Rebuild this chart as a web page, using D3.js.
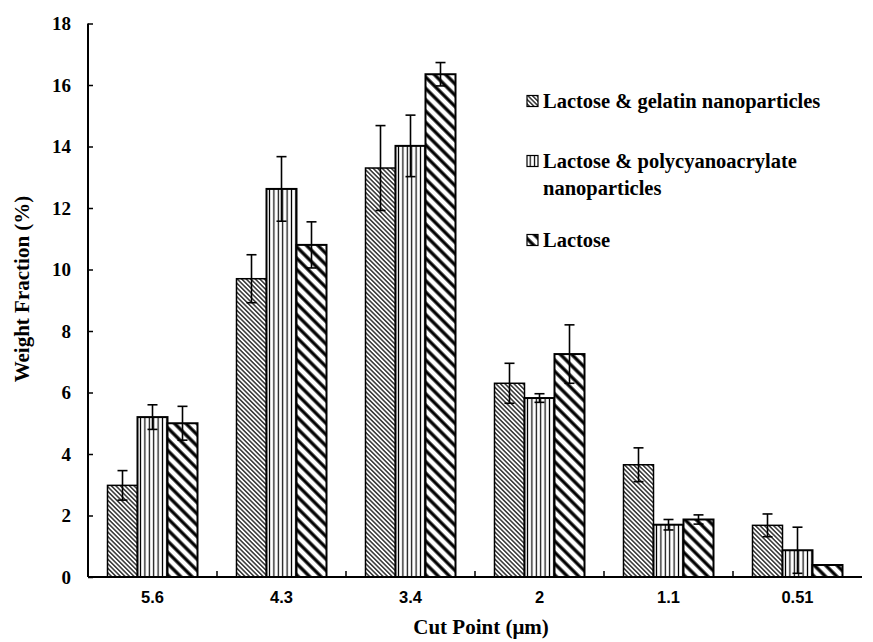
<!DOCTYPE html>
<html>
<head>
<meta charset="utf-8">
<script src="https://cdn.jsdelivr.net/npm/d3@7"></script>
<style>
  body { margin: 0; background: #fff; }
</style>
</head>
<body>
<script>
// chart values
let cutPoints = ["5.6", "4.3", "3.4", "2", "1.1", "0.51"]
let seriesNames = ["Lactose & gelatin nanoparticles", "Lactose & polycyanoacrylate nanoparticles", "Lactose"]
let gelatin = [2.98, 9.7, 13.3, 6.3, 3.65, 1.68]
let gelatinErr = [0.48, 0.78, 1.38, 0.65, 0.55, 0.37]
let polycyano = [5.2, 12.62, 14.02, 5.82, 1.7, 0.87]
let polycyanoErr = [0.4, 1.05, 1.0, 0.14, 0.17, 0.75]
let lactose = [5.0, 10.8, 16.35, 7.25, 1.87, 0.39]
let lactoseErr = [0.55, 0.75, 0.38, 0.95, 0.15, 0]
let yTicks = [0, 2, 4, 6, 8, 10, 12, 14, 16, 18]

let values = [gelatin, polycyano, lactose]
let errors = [gelatinErr, polycyanoErr, lactoseErr]

let width = 873, height = 642
let plotL = 88, plotR = 862, plotT = 23.5, plotB = 577
let serif = "'Liberation Serif', 'Times New Roman', Tinos, 'DejaVu Serif', serif"
let sans = "'Liberation Sans', Arial, 'DejaVu Sans', sans-serif"

let svg = d3.select("body").append("svg")
  .attr("width", width)
  .attr("height", height)
  .attr("font-family", serif)
  .attr("font-weight", "bold")

// hatch patterns for the three series
let defs = svg.append("defs")
function hatch(id, size, stroke, angle) {
  let p = defs.append("pattern")
    .attr("id", id)
    .attr("patternUnits", "userSpaceOnUse")
    .attr("width", size).attr("height", size)
    .attr("patternTransform", "rotate(" + angle + ")")
  p.append("rect").attr("width", size).attr("height", size).attr("fill", "#fff")
  p.append("line")
    .attr("x1", size / 2).attr("x2", size / 2)
    .attr("y1", 0).attr("y2", size)
    .attr("stroke", "#000").attr("stroke-width", stroke)
}
hatch("p0", 3.2, 1.2, -45)
hatch("p1", 4.4, 1.2, 0)
hatch("p2", 8, 3.3, -45)

let x = d3.scaleBand().domain(cutPoints).range([plotL, plotR])
let inner = d3.scaleBand().domain([0, 1, 2]).range([0, 90])
let y = d3.scaleLinear().domain([0, 18]).range([plotB, plotT])

let groups = svg.selectAll("g.cat")
  .data(cutPoints)
  .enter().append("g")
  .attr("class", "cat")
  .attr("transform", d => "translate(" + (x(d) + x.bandwidth() / 2 - 45) + ",0)")

groups.each(function(cat, ci) {
  let g = d3.select(this)
  values.forEach((vals, si) => {
    let v = vals[ci], e = errors[si][ci]
    let bx = inner(si), bw = inner.bandwidth()
    g.append("rect")
      .attr("x", bx).attr("y", y(v))
      .attr("width", bw).attr("height", y(0) - y(v))
      .attr("fill", "url(#p" + si + ")")
      .attr("stroke", "#000")
      .attr("stroke-width", si == 0 ? 1.5 : 2)
    if (e > 0) {
      let cx = bx + bw / 2
      g.append("line")
        .attr("x1", cx).attr("x2", cx)
        .attr("y1", y(v + e)).attr("y2", y(v - e))
        .attr("stroke", "#000").attr("stroke-width", 1.6)
      ;[v + e, v - e].forEach(t => {
        g.append("line")
          .attr("x1", cx - 5).attr("x2", cx + 5)
          .attr("y1", y(t)).attr("y2", y(t))
          .attr("stroke", "#000").attr("stroke-width", 1.6)
      })
    }
  })
})

// y axis, ticks pointing inward
let yAxis = d3.axisLeft(y).tickValues(yTicks).tickSize(-5).tickPadding(17)
let yg = svg.append("g").attr("transform", "translate(" + plotL + ",0)").call(yAxis)
yg.attr("font-family", serif).attr("font-size", 19)
yg.select(".domain").attr("stroke-width", 2).attr("d", "M0," + plotT + "V" + plotB)
yg.selectAll(".tick line").attr("stroke-width", 1.5)
yg.selectAll("text").attr("fill", "#000")

// x axis, ticks between categories
let xAxis = d3.axisBottom(x).tickSize(0).tickPadding(14)
let xg = svg.append("g").attr("transform", "translate(0," + plotB + ")").call(xAxis)
xg.attr("font-family", sans).attr("font-size", 16.5)
xg.select(".domain").attr("stroke-width", 2).attr("d", "M" + plotL + ",0H" + plotR)
xg.selectAll("text").attr("fill", "#000")
xg.selectAll(".sep")
  .data(cutPoints.slice(1))
  .enter().append("line")
  .attr("x1", d => x(d)).attr("x2", d => x(d))
  .attr("y1", 0).attr("y2", -6)
  .attr("stroke", "#000").attr("stroke-width", 1.5)

// axis titles
svg.append("text")
  .attr("transform", "translate(29,289) rotate(-90)")
  .attr("text-anchor", "middle")
  .attr("font-size", 21)
  .text("Weight Fraction (%)")

svg.append("text")
  .attr("x", 481).attr("y", 634)
  .attr("text-anchor", "middle")
  .attr("font-size", 21)
  .text("Cut Point (\u03bcm)")

// legend
let legendY = [101, 161, 240]
let legend = svg.append("g")
seriesNames.forEach((name, i) => {
  let ly = legendY[i]
  legend.append("rect")
    .attr("x", 527).attr("y", ly - 5.5)
    .attr("width", 11).attr("height", 11)
    .attr("fill", "url(#p" + i + ")")
    .attr("stroke", "#000").attr("stroke-width", 1.2)
  let t = legend.append("text")
    .attr("x", 543).attr("y", ly + 6.5)
    .attr("font-size", 20.5)
  if (i == 1) {
    t.append("tspan").text("Lactose & polycyanoacrylate")
    t.append("tspan").attr("x", 543).attr("dy", 27).text("nanoparticles")
  } else {
    t.text(name)
  }
})
</script>
</body>
</html>
